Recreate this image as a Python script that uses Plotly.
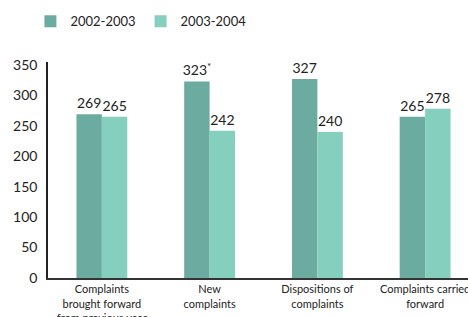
import plotly.graph_objects as go

categories = ["Complaints<br>brought forward<br>from previous year",
              "New<br>complaints",
              "Dispositions of<br>complaints",
              "Complaints carried<br>forward"]
series_names = ["2002-2003", "2003-2004"]
values_0203 = [269, 323, 327, 265]
values_0304 = [265, 242, 240, 278]
footnotes_0203 = ["", "*", "", ""]
footnotes_0304 = ["", "", "", ""]
y_ticks = [0, 50, 100, 150, 200, 250, 300, 350]

colors = ["#6BABA0", "#85CFBF"]
FONT = "Lato"
TXT = "#222222"

def labels(vals, notes):
    return [f"{v}<sup>{n}</sup>" if n else str(v) for v, n in zip(vals, notes)]

fig = go.Figure()
for name, vals, notes, col in [(series_names[0], values_0203, footnotes_0203, colors[0]),
                               (series_names[1], values_0304, footnotes_0304, colors[1])]:
    fig.add_trace(go.Bar(
        x=list(range(len(categories))), y=vals, name=name,
        marker=dict(color=col, line=dict(width=0)),
        text=labels(vals, notes), textposition="outside",
        textfont=dict(family=FONT, size=14, color=TXT),
        constraintext="none", cliponaxis=False,
        hoverinfo="skip",
    ))

fig.update_layout(
    width=468, height=317,
    margin=dict(l=48, r=0, t=62, b=39, autoexpand=False),
    paper_bgcolor="white", plot_bgcolor="white",
    barmode="group", bargap=0.528, bargroupgap=0,
    font=dict(family=FONT, color=TXT),
    showlegend=True,
    legend=dict(orientation="h", x=0.065, xanchor="left", xref="container",
                y=0.98, yref="container", yanchor="top",
                font=dict(family=FONT, size=13, color=TXT),
                traceorder="normal"),
    xaxis=dict(
        tickmode="array", tickvals=list(range(len(categories))), ticktext=categories,
        range=[-0.5, 3.398], showgrid=False, zeroline=False,
        showline=True, linecolor="#333333", linewidth=2,
        ticks="", tickfont=dict(family=FONT, size=11, color=TXT),
        automargin=False, ticklabeloverflow="allow",
    ),
    yaxis=dict(
        range=[0, 355], tickvals=y_ticks, showgrid=False, zeroline=False,
        showline=True, linecolor="#222222", linewidth=1.5,
        ticks="", ticklabelstandoff=6, automargin=False,
        tickfont=dict(family=FONT, size=14, color=TXT),
    ),
)

fig.write_html("out.html",
               config={"displayModeBar": False},
               post_script="document.body.style.margin='0';document.body.style.overflow='hidden';")
